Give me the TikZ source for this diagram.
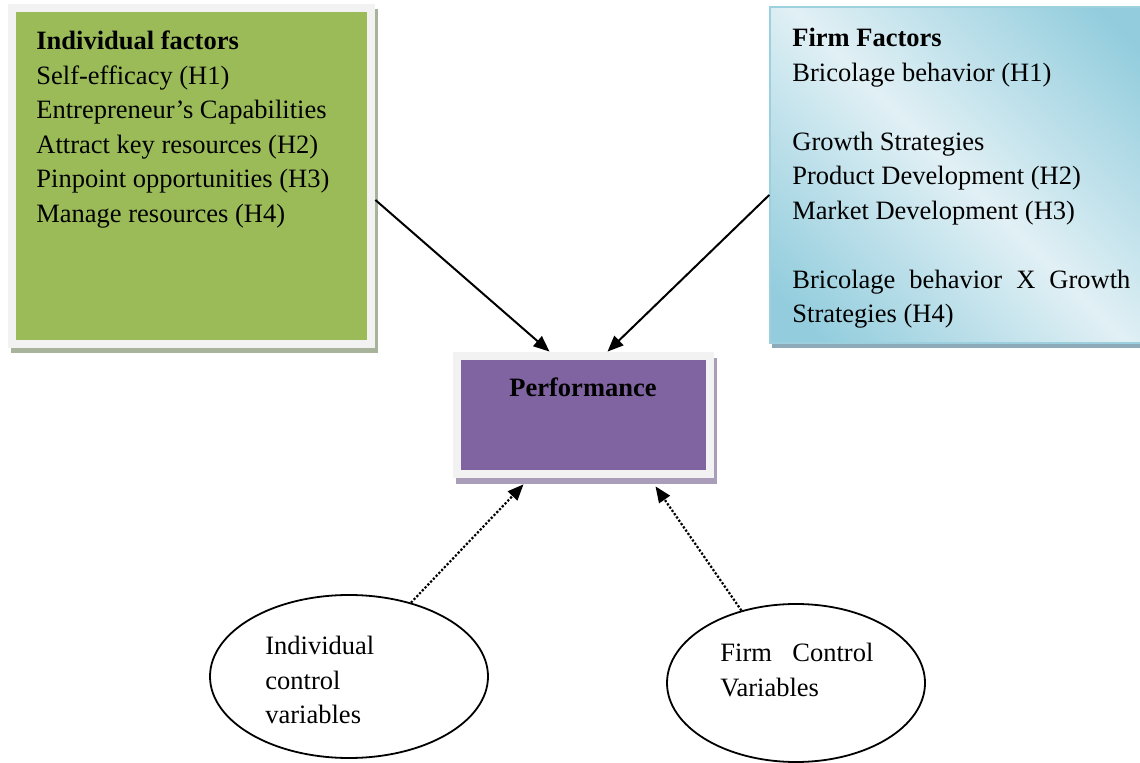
\documentclass[tikz,border=0pt]{standalone}
\usepackage{fontspec}
\setmainfont{Liberation Serif}
\usepackage{xcolor}
\usetikzlibrary{arrows.meta, shapes.geometric, shadows}

\definecolor{framegrey}{HTML}{F2F2F2}
\definecolor{indgreen}{HTML}{9BBB59}
\definecolor{indshadow}{HTML}{A8B39B}
\definecolor{perfpurple}{HTML}{8064A2}
\definecolor{perfshadow}{HTML}{A99DB9}
\definecolor{firmlight}{HTML}{E1F0F5}
\definecolor{firmdark}{HTML}{93CDDD}
\definecolor{firmedge}{HTML}{9DD0DE}
\definecolor{firmshadow}{HTML}{8DAAB8}

\pgfdeclarehorizontalshading{firmband}{100bp}{color(0bp)=(firmdark); color(20bp)=(firmdark); color(50bp)=(firmlight); color(80bp)=(firmdark); color(100bp)=(firmdark)}

\begin{document}
\begin{tikzpicture}[
    x=0.5pt, y=-0.5pt,
    font=\fontsize{13.25}{17.25}\selectfont,
    panel/.style={
        fill=framegrey, inner sep=0pt,
        path picture={\fill[#1] ([shift={(4pt,-4pt)}]path picture bounding box.north west)
            rectangle ([shift={(-4pt,4pt)}]path picture bounding box.south east);},
    },
    firmpanel/.style={
        shade, shading=firmband, shading angle=45, draw=firmedge, line width=0.75pt,
        inner sep=0pt,
    },
    listtext/.style={anchor=base west, inner sep=0pt},
    ctlellipse/.style={ellipse, draw=black, line width=0.9pt, inner sep=0pt},
    solidarrow/.style={-{Triangle[length=8pt,width=6.5pt]}, line width=1pt},
    ctlarrow/.style={-{Triangle[length=8pt,width=6.5pt]}, line width=1.1pt, dash pattern=on 1.1pt off 0.9pt},
]

\path[use as bounding box, fill=white] (0,0) rectangle (1140,763);

\node[panel=indgreen, minimum width=183.5pt, minimum height=172pt,
    drop shadow={shadow xshift=1.25pt, shadow yshift=-2.5pt, fill=indshadow, opacity=1}]
    (indbox) at (191.5,176) {};
\node[firmpanel, minimum width=190pt, minimum height=168pt,
    drop shadow={shadow xshift=1pt, shadow yshift=-2.5pt, fill=firmshadow, opacity=1}]
    (firmbox) at (960,175) {};
\node[panel=perfpurple, minimum width=130.5pt, minimum height=63pt,
    drop shadow={shadow xshift=1.5pt, shadow yshift=-3pt, fill=perfshadow, opacity=1}]
    (perf) at (583.5,415) {};

\node[listtext] (indtext) at (36,50) {\begin{tabular}[t]{@{}l@{}}
    \textbf{Individual factors}\\
    Self-efficacy (H1)\\
    Entrepreneur's Capabilities\\
    Attract key resources (H2)\\
    Pinpoint opportunities (H3)\\
    Manage resources (H4)
\end{tabular}};

\node[listtext] (firmtext) at (792,47) {\begin{tabular}[t]{@{}l@{}}
    \textbf{Firm Factors}\\
    Bricolage behavior (H1)\\
    \\
    Growth Strategies\\
    Product Development (H2)\\
    Market Development (H3)\\
    \\
    \makebox[169pt][s]{Bricolage behavior X Growth}\\
    Strategies (H4)
\end{tabular}};

\node[anchor=base, inner sep=0pt, font=\fontsize{13.25}{17.25}\selectfont\bfseries]
    (perftext) at (583,397) {Performance};

\node[ctlellipse, minimum width=139pt, minimum height=81.5pt] (indctl) at (349,676.5) {};
\node[ctlellipse, minimum width=129pt, minimum height=79pt] (firmctl) at (796,683) {};

\node[listtext] (indctltext) at (265,655) {\begin{tabular}[t]{@{}l@{}}
    Individual\\control\\variables
\end{tabular}};
\node[listtext] (firmctltext) at (720,662) {\begin{tabular}[t]{@{}l@{}}
    \makebox[76.5pt][s]{Firm Control}\\Variables
\end{tabular}};

\draw[solidarrow] ([yshift=-12pt]indbox.east) -- ([xshift=-17pt]perf.north);
\draw[solidarrow] ([yshift=-10pt]firmbox.west) -- ([xshift=12pt]perf.north);
\draw[ctlarrow] (indctl.50) -- ([xshift=-30pt,yshift=-3pt]perf.south);
\draw[ctlarrow] (firmctl.127) -- ([xshift=36pt,yshift=-4pt]perf.south);

\end{tikzpicture}
\end{document}
